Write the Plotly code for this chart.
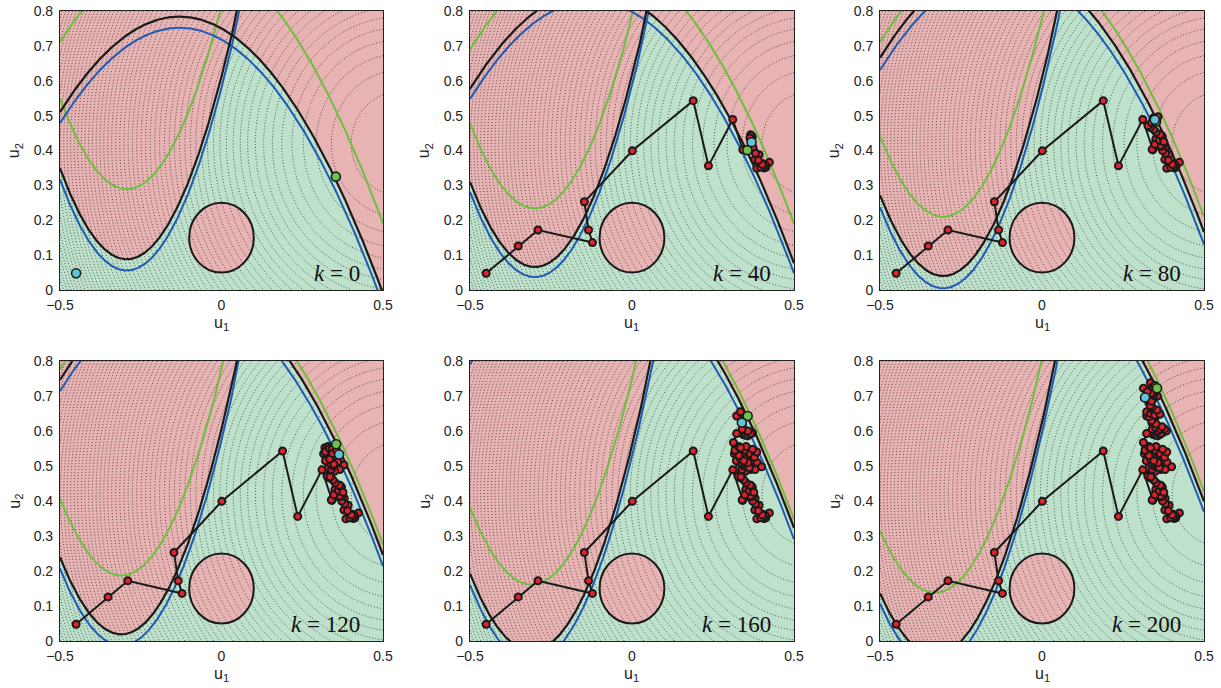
import numpy as np
import plotly.graph_objects as go

# ---------------- data ----------------
K_LABELS = [0, 40, 80, 120, 160, 200]

# constraint boundary "cap" (opening downward) and "cup" (opening upward), per panel
cap_top = [0.784, 0.858, 0.947, 1.027, 1.104, 1.180]
cap_center = [-0.13, -0.125, -0.125, -0.125, -0.125, -0.125]
cap_green_top = [0.984, 0.971, 0.992, 1.057, 1.128, 1.208]
cup_min = [0.088, 0.066, 0.040, 0.019, -0.028, -0.040]
cup_center = [-0.293, -0.300, -0.305, -0.310, -0.310, -0.330]
cup_green_min = [0.289, 0.234, 0.210, 0.187, 0.161, 0.138]
blue_offset = [0.032, 0.029, 0.035, 0.032, 0.032, 0.030]
cap_curv = 2.0
cup_curv = 6.1

# circular constraint
circle_u1 = 0.0
circle_u2 = 0.15
circle_r = 0.10

# cost contours (centre and level step)
cost_u1 = 0.55
cost_u2 = 0.42
cost_step = 0.022

# input trajectory, segment by segment (each segment ends at the current input)
seg0_u1 = [-0.450]
seg0_u2 = [0.048]
seg1_u1 = [-0.351, -0.290, -0.122, -0.134, -0.147, 0.001, 0.189, 0.236, 0.311,
           0.342, 0.374, 0.392, 0.379, 0.404, 0.424, 0.410, 0.413, 0.408, 0.412, 0.406,
           0.385, 0.397, 0.402, 0.390, 0.381, 0.373, 0.368, 0.370, 0.366, 0.371, 0.367,
           0.364, 0.369]
seg1_u2 = [0.126, 0.172, 0.136, 0.172, 0.253, 0.399, 0.543, 0.356, 0.489,
           0.402, 0.404, 0.388, 0.374, 0.362, 0.366, 0.356, 0.352, 0.350, 0.357, 0.354,
           0.349, 0.352, 0.360, 0.372, 0.392, 0.410, 0.428, 0.441, 0.445, 0.438, 0.443,
           0.436, 0.424]
seg2_u1 = [0.375, 0.380, 0.372, 0.368, 0.371, 0.366, 0.369, 0.373, 0.366, 0.360,
           0.351, 0.340, 0.348, 0.362, 0.370, 0.376, 0.365, 0.352, 0.345, 0.334,
           0.327, 0.338, 0.352, 0.358, 0.343, 0.348]
seg2_u2 = [0.418, 0.408, 0.400, 0.412, 0.418, 0.422, 0.428, 0.415, 0.414, 0.428,
           0.432, 0.403, 0.418, 0.430, 0.440, 0.425, 0.445, 0.452, 0.460, 0.466,
           0.471, 0.480, 0.492, 0.497, 0.493, 0.488]
seg3_u1 = [0.338, 0.346, 0.352, 0.348, 0.355, 0.350, 0.362, 0.379, 0.366, 0.350,
           0.336, 0.331, 0.340, 0.345, 0.338, 0.322, 0.316, 0.320, 0.325, 0.322,
           0.330, 0.334, 0.342, 0.338, 0.343, 0.352, 0.360, 0.348, 0.335, 0.344,
           0.356, 0.364]
seg3_u2 = [0.478, 0.503, 0.495, 0.488, 0.492, 0.500, 0.510, 0.503, 0.490, 0.485,
           0.469, 0.495, 0.490, 0.500, 0.508, 0.515, 0.535, 0.552, 0.545, 0.540,
           0.556, 0.550, 0.548, 0.528, 0.524, 0.520, 0.512, 0.505, 0.520, 0.536,
           0.545, 0.533]
seg4_u1 = [0.350, 0.372, 0.386, 0.400, 0.380, 0.360, 0.355, 0.362, 0.358, 0.345,
           0.330, 0.318, 0.330, 0.350, 0.365, 0.378, 0.385, 0.372, 0.352, 0.335,
           0.313, 0.323, 0.343, 0.350, 0.357, 0.364, 0.372, 0.366, 0.358, 0.340,
           0.323, 0.335, 0.350, 0.339]
seg4_u2 = [0.520, 0.517, 0.510, 0.498, 0.490, 0.500, 0.505, 0.495, 0.510, 0.515,
           0.530, 0.545, 0.554, 0.545, 0.535, 0.525, 0.540, 0.548, 0.556, 0.552,
           0.567, 0.593, 0.590, 0.588, 0.586, 0.590, 0.595, 0.593, 0.600, 0.605,
           0.643, 0.655, 0.640, 0.624]
seg5_u1 = [0.350, 0.365, 0.384, 0.378, 0.370, 0.352, 0.338, 0.330, 0.323, 0.335,
           0.340, 0.348, 0.364, 0.355, 0.340, 0.330, 0.334, 0.342, 0.338, 0.356,
           0.350, 0.344, 0.338, 0.328, 0.335, 0.342, 0.348, 0.354, 0.336, 0.313,
           0.325, 0.318]
seg5_u2 = [0.610, 0.605, 0.600, 0.606, 0.612, 0.620, 0.630, 0.641, 0.655, 0.650,
           0.662, 0.645, 0.648, 0.660, 0.668, 0.680, 0.672, 0.690, 0.685, 0.700,
           0.712, 0.702, 0.705, 0.715, 0.738, 0.725, 0.730, 0.722, 0.708, 0.722,
           0.712, 0.696]

# plant optimum (green marker) per panel
opt_u1 = [0.354, 0.356, 0.352, 0.355, 0.357, 0.355]
opt_u2 = [0.325, 0.401, 0.483, 0.562, 0.643, 0.722]

X_TICKS = [-0.5, 0, 0.5]
X_TICKTEXT = ["\u22120.5", "0", "0.5"]
Y_TICKS = [0, 0.1, 0.2, 0.3, 0.4, 0.5, 0.6, 0.7, 0.8]
Y_TICKTEXT = ["0", "0.1", "0.2", "0.3", "0.4", "0.5", "0.6", "0.7", "0.8"]

# ---------------- styling ----------------
PINK = "#e7b3b3"
GREEN_BG = "#bee1cb"
BLACK = "#1a1a1a"
BLUE = "#1f5bb5"
GREEN_LN = "#6cbf3f"
RED = "#e4222b"
CYAN = "#5ec4d6"
GREEN_MK = "#6cc24a"
SANS = "Liberation Sans, Arial, sans-serif"
SERIF = "Liberation Serif, Times New Roman, serif"

X_DOMAINS = [[0.0491, 0.3137], [0.3849, 0.6503], [0.7207, 0.9861]]
Y_DOMAINS = [[0.5785, 0.9840], [0.0683, 0.4753]]

segs_u1 = [seg0_u1, seg1_u1, seg2_u1, seg3_u1, seg4_u1, seg5_u1]
segs_u2 = [seg0_u2, seg1_u2, seg2_u2, seg3_u2, seg4_u2, seg5_u2]

fig = go.Figure()
shapes = []
annotations = []
layout_axes = {}

xs = np.linspace(-0.5, 0.5, 801)
gx = np.linspace(-0.5, 0.5, 261)
gy = np.linspace(0.0, 0.8, 209)
GX, GY = np.meshgrid(gx, gy)
cost = (GX - cost_u1) ** 2 + (GY - cost_u2) ** 2

def cap_curve(top, c):
    return top - cap_curv * (xs - c) ** 2

def cup_curve(m, c):
    return m + cup_curv * (xs - c) ** 2

for i in range(6):
    xa = "x" if i == 0 else f"x{i+1}"
    ya = "y" if i == 0 else f"y{i+1}"
    fig.add_trace(go.Contour(
        x=gx, y=gy, z=cost, xaxis=xa, yaxis=ya,
        contours=dict(start=cost_step, end=1.6, size=cost_step, coloring="none"),
        line=dict(color="rgba(30,30,30,0.7)", width=1, dash="1px,2px"),
        showscale=False, hoverinfo="skip", showlegend=False,
    ))

for i, k in enumerate(K_LABELS):
    row, col = divmod(i, 3)
    xa = "x" if i == 0 else f"x{i+1}"
    ya = "y" if i == 0 else f"y{i+1}"
    xkey = "xaxis" if i == 0 else f"xaxis{i+1}"
    ykey = "yaxis" if i == 0 else f"yaxis{i+1}"

    layout_axes[xkey] = dict(
        domain=X_DOMAINS[col], anchor=ya, range=[-0.5, 0.5], automargin=False,
        tickvals=X_TICKS, ticktext=X_TICKTEXT, ticks="", ticklabeloverflow="allow",
        ticklabelstandoff=2,
        showgrid=False, zeroline=False, showline=True, linecolor="#222",
        linewidth=1, mirror=True,
        tickfont=dict(family=SANS, size=14, color="#222"),
    )
    layout_axes[ykey] = dict(
        domain=Y_DOMAINS[row], anchor=xa, range=[0, 0.8], automargin=False,
        tickvals=Y_TICKS, ticktext=Y_TICKTEXT, ticks="", ticklabeloverflow="allow",
        ticklabelstandoff=3,
        showgrid=False, zeroline=False, showline=True, linecolor="#222",
        linewidth=1, mirror=True,
        tickfont=dict(family=SANS, size=14, color="#222"),
    )

    cap = cap_curve(cap_top[i], cap_center[i])
    cup = cup_curve(cup_min[i], cup_center[i])
    feasible_top = np.clip(np.minimum(cap, cup), 0.0, 0.8)
    path = "M -0.5,0 " + " ".join(f"L {x:.4f},{y:.4f}" for x, y in zip(xs, feasible_top)) + " L 0.5,0 Z"
    shapes.append(dict(type="path", path=path, xref=xa, yref=ya, fillcolor=GREEN_BG,
                       line=dict(width=0), layer="below"))
    shapes.append(dict(type="circle", xref=xa, yref=ya,
                       x0=circle_u1 - circle_r, x1=circle_u1 + circle_r,
                       y0=circle_u2 - circle_r, y1=circle_u2 + circle_r,
                       fillcolor=PINK, line=dict(width=0), layer="below"))
    shapes.append(dict(type="circle", xref=xa, yref=ya,
                       x0=circle_u1 - circle_r, x1=circle_u1 + circle_r,
                       y0=circle_u2 - circle_r, y1=circle_u2 + circle_r,
                       fillcolor="rgba(0,0,0,0)", line=dict(width=2, color=BLACK), layer="above"))

    gcap = cap_curve(cap_green_top[i], cap_center[i])
    gcup = cup_curve(cup_green_min[i], cup_center[i])
    for yv in (gcap, gcup):
        fig.add_trace(go.Scatter(x=xs, y=yv, xaxis=xa, yaxis=ya, mode="lines",
                                 line=dict(color=GREEN_LN, width=2), hoverinfo="skip",
                                 showlegend=False))
    for yv in (cap - blue_offset[i], cup - blue_offset[i]):
        fig.add_trace(go.Scatter(x=xs, y=yv, xaxis=xa, yaxis=ya, mode="lines",
                                 line=dict(color=BLUE, width=2), hoverinfo="skip",
                                 showlegend=False))
    for yv in (cap, cup):
        fig.add_trace(go.Scatter(x=xs, y=yv, xaxis=xa, yaxis=ya, mode="lines",
                                 line=dict(color=BLACK, width=2.2), hoverinfo="skip",
                                 showlegend=False))

    tu1 = sum(segs_u1[: i + 1], [])
    tu2 = sum(segs_u2[: i + 1], [])
    if i > 0:
        fig.add_trace(go.Scatter(
            x=tu1, y=tu2, xaxis=xa, yaxis=ya, mode="lines+markers",
            line=dict(color=BLACK, width=2),
            marker=dict(color=RED, size=7, line=dict(color=BLACK, width=2)),
            hoverinfo="skip", showlegend=False))
    fig.add_trace(go.Scatter(
        x=[opt_u1[i]], y=[opt_u2[i]], xaxis=xa, yaxis=ya, mode="markers",
        marker=dict(color=GREEN_MK, size=9, line=dict(color=BLACK, width=1.6)),
        hoverinfo="skip", showlegend=False))
    fig.add_trace(go.Scatter(
        x=[tu1[-1]], y=[tu2[-1]], xaxis=xa, yaxis=ya, mode="markers",
        marker=dict(color=CYAN, size=9, line=dict(color=BLACK, width=1.6)),
        hoverinfo="skip", showlegend=False))

    annotations.append(dict(
        x=0.435, y=0.048, xref=xa, yref=ya, xanchor="right", yanchor="middle",
        text=f"<i>k</i> = {k}", showarrow=False,
        font=dict(family=SERIF, size=23, color="#111")))

    xd = X_DOMAINS[col]
    yd = Y_DOMAINS[row]
    annotations.append(dict(
        x=(xd[0] + xd[1]) / 2, y=yd[0] - 0.048, xref="paper", yref="paper",
        xanchor="center", yanchor="middle", text="u<sub>1</sub>", showarrow=False,
        font=dict(family=SANS, size=16, color="#222")))
    annotations.append(dict(
        x=xd[0] - 0.037, y=(yd[0] + yd[1]) / 2, xref="paper", yref="paper",
        xanchor="center", yanchor="middle", text="u<sub>2</sub>", showarrow=False,
        textangle=-90, font=dict(family=SANS, size=16, color="#222")))

fig.update_layout(
    width=1221, height=688,
    margin=dict(l=0, r=0, t=0, b=0),
    paper_bgcolor="white", plot_bgcolor=PINK,
    shapes=shapes, annotations=annotations,
    showlegend=False, hovermode=False,
    **layout_axes,
)

fig.write_html(
    "out.html",
    config={"displayModeBar": False, "staticPlot": True},
    post_script="document.body.style.margin='0px';document.body.style.overflow='hidden';",
)
